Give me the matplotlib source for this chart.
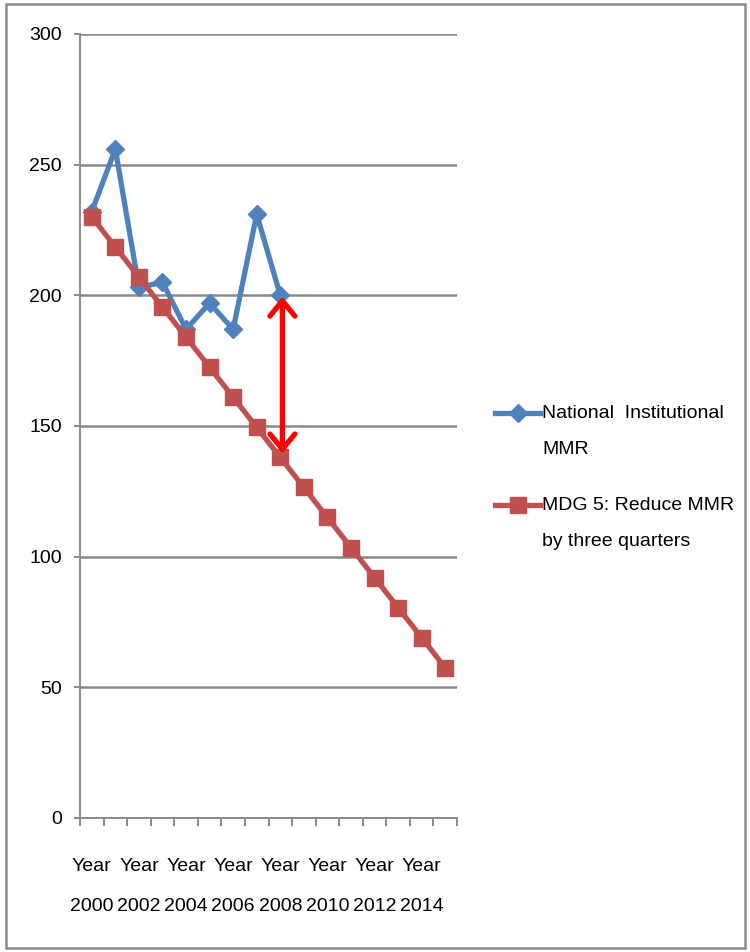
import matplotlib
matplotlib.use("Agg")
import matplotlib.pyplot as plt
from matplotlib.patches import Rectangle
from matplotlib.lines import Line2D

plt.rcParams['font.family'] = ['Liberation Sans', 'DejaVu Sans']

years = [f"Year\n{y}" for y in range(2000, 2016)]
national_mmr = [232, 256, 203, 205, 187, 197, 187, 231, 200]
mdg5 = [230, 218.5, 207, 195.5, 184, 172.5, 161, 149.5, 138, 126.5, 115, 103.5, 92, 80.5, 69, 57.5]
yticks = [0, 50, 100, 150, 200, 250, 300]
legend_labels = ['National  Institutional\nMMR', 'MDG 5: Reduce MMR\nby three quarters']

W, H = 750, 952
FS = 14
fig = plt.figure(figsize=(W / 100, H / 100), dpi=100)
ax = fig.add_axes([80 / W, 1 - 818 / H, (457 - 80) / W, (818 - 34) / H])

xn = list(range(len(national_mmr)))
xm = list(range(len(mdg5)))
blue = '#4F81BD'
red = '#C0504D'

ax.plot(xn, national_mmr, color=blue, lw=3.8, marker='D', markersize=9,
        markerfacecolor=blue, markeredgecolor=blue, zorder=3)
ax.plot(xm, mdg5, color=red, lw=3.8, marker='s', markersize=12,
        markerfacecolor=red, markeredgecolor=red, zorder=4)

ax.set_xlim(-0.5, len(years) - 0.5)
ax.set_ylim(0, 300)
ax.set_yticks(yticks)
ax.set_yticklabels([str(v) for v in yticks], fontsize=FS)
ax.yaxis.grid(True, color='#8A8A8A', lw=1.8)
ax.set_axisbelow(True)

# x ticks at category boundaries, labels at every other category
ax.set_xticks([i - 0.5 for i in range(len(years) + 1)])
ax.set_xticklabels([])
ax.set_xticks(list(range(0, len(years), 2)), minor=True)
ax.set_xticklabels(years[::2], minor=True, fontsize=FS, linespacing=2.75)
ax.tick_params(axis='x', which='major', direction='out', length=6, width=1.4, color='#8A8A8A')
ax.tick_params(axis='x', which='minor', length=0, pad=29)
ax.tick_params(axis='y', direction='out', length=4, width=1.4, color='#8A8A8A', pad=9)

for s in ['top', 'right']:
    ax.spines[s].set_visible(False)
for s in ['left', 'bottom']:
    ax.spines[s].set_color('#8A8A8A')
    ax.spines[s].set_linewidth(1.4)

# double-headed red arrow
ax.annotate('', xy=(8.09, 199.5), xytext=(8.09, 139.5),
            arrowprops=dict(arrowstyle='<->,head_length=1.1,head_width=0.9',
                            color='#FF0000', lw=3.8, shrinkA=0, shrinkB=0), zorder=6)

# legend (drawn by hand so the handle sits on the first text line)
leg_items = [(blue, 'D', 9, 413), (red, 's', 12, 505)]
for (c, m, ms, yc), lab in zip(leg_items, legend_labels):
    yf = 1 - yc / H
    fig.add_artist(Line2D([495 / W, 540 / W], [yf, yf], transform=fig.transFigure,
                          color=c, lw=3.8))
    fig.add_artist(Line2D([517.5 / W], [yf], transform=fig.transFigure,
                          color=c, marker=m, markersize=ms, lw=0))
    for k, line in enumerate(lab.split('\n')):
        fig.text(542 / W, 1 - (yc + 36 * k) / H, line, fontsize=FS,
                 va='center', ha='left', transform=fig.transFigure)

# outer chart frame
fig.patches.append(Rectangle((6 / W, 4 / H), (745 - 6) / W, (948 - 4) / H,
                             transform=fig.transFigure, fill=False,
                             edgecolor='#8A8A8A', lw=1.8))

fig.savefig('out.png', dpi=100)
